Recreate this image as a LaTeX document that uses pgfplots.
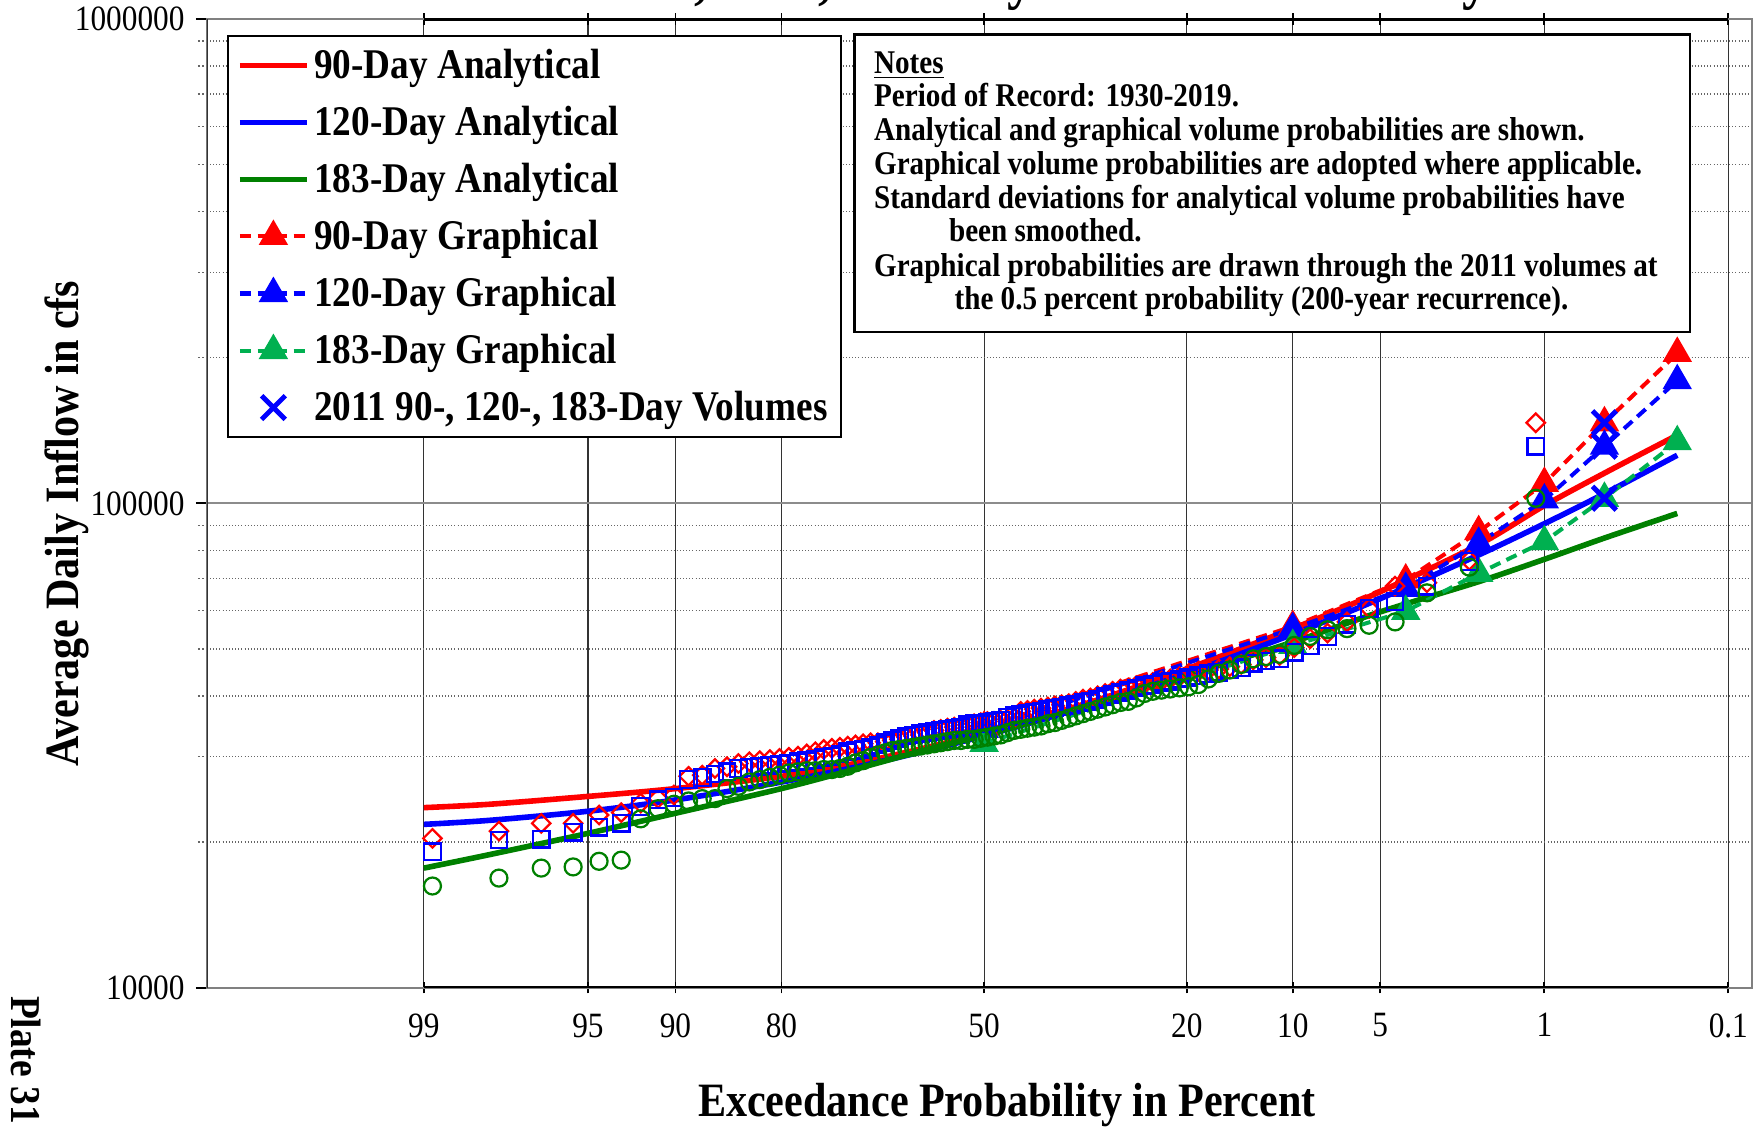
\documentclass[border=0pt]{standalone}
\usepackage{fontspec}
\setmainfont{Liberation Serif}[FakeStretch=0.88]
\usepackage{pgfplots}
\usepackage{pgfplotstable}
\pgfplotsset{compat=1.18}

\definecolor{anared}{RGB}{255,0,0}
\definecolor{anablue}{RGB}{0,0,255}
\definecolor{anagreen}{RGB}{0,128,0}
\definecolor{grgreen}{RGB}{0,176,80}

\newcommand{\tickfont}{\fontsize{15.9pt}{18pt}\selectfont}
\newcommand{\legfont}{\fontsize{18.9pt}{22pt}\selectfont\bfseries}
\newcommand{\notefont}{\fontsize{14.8pt}{17pt}\selectfont\bfseries}
\newcommand{\labfont}{\fontsize{21.4pt}{25pt}\selectfont\bfseries}
\newcommand{\titlefont}{\fontsize{27pt}{30pt}\selectfont\bfseries}

% x = standard normal deviate of the non-exceedance probability (1 - p)
% Analytical volume-frequency curves, average daily inflow in cfs
\pgfplotstableread{
p    z       red     blue    green
99   -2.3263 23540   21740   17660
98   -2.0537 23920   22160   18830
95   -1.6449 24830   23140   20830
90   -1.2816 25770   24420   22920
80   -0.8416 27320   26580   25770
70   -0.5244 29120   28610   28360
60   -0.2533 31200   30740   30880
50    0.0000 33530   33120   33260
40    0.2533 36410   35930   36020
30    0.5244 40070   39500   39430
20    0.8416 45520   44560   44090
10    1.2816 55120   53680   51720
5     1.6449 65700   63570   59700
2     2.0537 82150   78260   68920
1     2.3263 98940   90780   76660
0.5   2.5758 115450  104730  84800
0.2   2.8782 138320  125700  95330
}\analytical

% Graphical curves, drawn through the 2011 volumes at 0.5 percent
\pgfplotstableread{
p    z       red     blue    green
50   0.0000  34520   34160   31960
10   1.2816  55710   55120   50900
4    1.7507  69470   66750   59860
2    2.0537  87410   82720   71720
1    2.3263  109990  101610  83370
0.5  2.5758  146700  131200  102440
0.2  2.8782  204010  179180  134050
}\graphical

% 2011 volumes plotted at the 0.5 percent probability
\pgfplotstableread{
z      vol
2.5758 146700
2.5758 131200
2.5758 102440
}\volumes

% Ranked annual volumes 1930-2019, Weibull plotting position m/91
\pgfplotstableread{
m  z       red     blue    green
1  2.2906  146700  131200  102440
2  2.0146  76260   75850   73860
3  1.8388  68560   67480   65360
4  1.7065  67480   62640   56920
5  1.5987  60670   60670   56020
6  1.5068  56920   56310   55130
7  1.4261  53970   53120   54840
8  1.3537  52550   50900   53120
9  1.2879  50360   49300   50900
10 1.2271  48520   47760   48780
11 1.1706  48010   47250   48270
12 1.1176  47500   46750   47760
13 1.0676  46500   45770   46500
14 1.0200  46010   45280   45280
15 0.9748  45520   44800   44570
16 0.9314  45280   44570   43400
17 0.8897  45040   44090   42260
18 0.8495  44570   43630   41810
19 0.8106  43860   43400   41590
20 0.7729  43400   42940   41370
21 0.7363  42940   42710   41150
22 0.7007  42710   42260   40930
23 0.6659  42480   42030   40500
24 0.6319  42030   41590   39650
25 0.5986  41590   41150   39020
26 0.5660  41370   40710   38810
27 0.5339  40930   40280   38400
28 0.5024  40500   39860   37990
29 0.4714  40070   39430   37590
30 0.4408  39650   39020   37190
31 0.4107  39430   38810   36800
32 0.3809  39020   38400   36410
33 0.3514  38600   38200   36020
34 0.3222  38400   37990   35640
35 0.2934  38200   37790   35270
36 0.2648  37990   37590   35080
37 0.2363  37790   37190   34710
38 0.2081  37590   37000   34520
39 0.1800  37390   36800   34340
40 0.1521  37190   36600   34160
41 0.1243  36020   36410   33980
42 0.0966  35830   36220   33620
43 0.0689  35640   35640   33260
44 0.0413  35460   35460   33090
45 0.0138  35460   35270   32910
46 -0.0138 35270   35080   32740
47 -0.0413 35080   35080   32560
48 -0.0689 34890   34890   32560
49 -0.0966 34710   34520   32390
50 -0.1243 34520   34340   32390
51 -0.1521 34340   34160   32220
52 -0.1800 34160   33980   32050
53 -0.2081 33980   33800   31880
54 -0.2363 33620   33620   31710
55 -0.2648 33260   33440   31540
56 -0.2934 33090   33260   31370
57 -0.3222 32910   33090   31210
58 -0.3514 32560   32740   31040
59 -0.3809 32390   32390   30880
60 -0.4107 32220   32050   30550
61 -0.4408 32050   31710   30230
62 -0.4714 32050   31370   29900
63 -0.5024 31880   31040   29430
64 -0.5339 31710   30880   29120
65 -0.5660 31540   30710   28660
66 -0.5986 31370   30390   28360
67 -0.6319 31210   30060   28210
68 -0.6659 31040   29900   28210
69 -0.7007 30710   29590   28060
70 -0.7363 30390   29430   28060
71 -0.7729 30060   29280   27910
72 -0.8106 29900   29120   27760
73 -0.8495 29750   28970   27470
74 -0.8897 29590   28810   27180
75 -0.9314 29430   28660   26890
76 -0.9748 29280   28510   26600
77 -1.0200 29040   28360   26050
78 -1.0676 28590   27910   25770
79 -1.1176 28360   27610   24570
80 -1.1706 27470   27180   24570
81 -1.2271 27320   26890   24300
82 -1.2879 25000   24700   23920
83 -1.3537 24600   24430   23420
84 -1.4261 24050   23670   22320
85 -1.5068 22990   21850   18340
86 -1.5987 22730   21440   18240
87 -1.7065 21850   20940   17760
88 -1.8388 21850   20250   17660
89 -2.0146 21050   20180   16840
90 -2.2906 20340   19090   16220
}\annual

\pgfplotsset{
  ana/.style={line width=2.5pt},
  grp/.style={line width=1.8pt, dash pattern=on 5pt off 3pt, mark=triangle*, mark size=5.8pt, mark options={solid}},
}

\begin{document}
\begin{tikzpicture}
\useasboundingbox (0,0) rectangle (784pt,503.5pt);
\clip (0,0) rectangle (784pt,503.5pt);
\begin{axis}[
  at={(92.5pt,62pt)}, anchor=south west,
  scale only axis, width=690.75pt, height=433pt,
  xmin=-3.227, xmax=3.190,
  ymode=log, ymin=10000, ymax=1000000,
  xtick={-2.3263,-1.6449,-1.2816,-0.8416,0,0.8416,1.2816,1.6449,2.3263,3.0902},
  xticklabels={99,95,90,80,50,20,10,5,1,0.1},
  ytick={10000,100000,1000000},
  yticklabels={10000,100000,1000000},
  minor ytick={20000,30000,40000,50000,60000,70000,80000,90000,200000,300000,400000,500000,600000,700000,800000,900000},
  /pgf/number format/assume math mode=true,
  xtick align=center, ytick align=outside,
  xtick pos=both, ytick pos=left,
  major tick length=5pt, minor tick length=4pt,
  tick style={black, line width=0.8pt},
  minor tick style={black!60, densely dotted, line width=0.6pt},
  xticklabel style={font=\tickfont, yshift=-5.5pt},
  yticklabel style={font=\tickfont, xshift=-1.5pt},
  xmajorgrids=true, ymajorgrids=true, yminorgrids=true,
  major x grid style={black!80, line width=0.5pt},
  major y grid style={black!45, line width=1pt},
  minor y grid style={black!60, densely dotted, line width=0.6pt},
  axis line style={black!50, line width=0.9pt},
  title={90-, 120-, 183-Day Volume Probability},
  title style={at={(axis description cs:0.5494,1.0087)}, anchor=base, font=\titlefont},
  xlabel={Exceedance Probability in Percent},
  ylabel={Average Daily Inflow in cfs},
  every axis x label/.style={at={(axis description cs:0.5176,-0.1328)}, anchor=base, font=\labfont},
  every axis y label/.style={at={(axis description cs:-0.0905,0.479)}, rotate=90, anchor=center, font=\labfont},
  legend cell align=left,
  legend style={
    at={(axis description cs:0.01303,0.98383)}, anchor=north west,
    draw=black, line width=0.9pt, fill=white,
    font=\legfont,
    inner xsep=4pt, inner ysep=0.5pt,
    column sep=0pt,
  },
  legend image code/.code={
    \path[draw=none, fill=none] (0pt,-12.75pt) -- (0pt,12.75pt);
    \draw[mark repeat=2, mark phase=2, #1] plot coordinates {(0pt,0pt) (15pt,0pt) (30pt,0pt)};
  },
]
% analytical curves
\addplot[ana, anared, smooth] table[x=z, y=red] {\analytical};
\addlegendentry{90-Day Analytical}
\addplot[ana, anablue, smooth] table[x=z, y=blue] {\analytical};
\addlegendentry{120-Day Analytical}
\addplot[ana, anagreen, smooth] table[x=z, y=green] {\analytical};
\addlegendentry{183-Day Analytical}
% graphical curves
\addplot[grp, anared] table[x=z, y=red] {\graphical};
\addlegendentry{90-Day Graphical}
\addplot[grp, anablue] table[x=z, y=blue] {\graphical};
\addlegendentry{120-Day Graphical}
\addplot[grp, grgreen] table[x=z, y=green] {\graphical};
\addlegendentry{183-Day Graphical}
% ranked annual volumes
\addplot[only marks, forget plot, mark=square, mark size=2.9pt,
  mark options={rotate=45, draw=anared, line width=1pt}] table[x=z, y=red] {\annual};
\addplot[only marks, forget plot, mark=square, mark size=3.7pt,
  mark options={draw=anablue, line width=1pt}] table[x=z, y=blue] {\annual};
\addplot[only marks, forget plot, mark=o, mark size=3.8pt,
  mark options={draw=anagreen, line width=1pt}] table[x=z, y=green] {\annual};
% 2011 volumes
\addplot[only marks, mark=x, mark size=7.5pt,
  mark options={draw=anablue, line width=2.2pt}] table[x=z, y=vol] {\volumes};
\addlegendentry{2011 90-, 120-, 183-Day Volumes}
% heavier frame between the 99 and 0.1 percent ticks
\draw[black, line width=1.6pt] (axis cs:-2.3263,10000) -- (axis cs:3.0902,10000);
\draw[black, line width=1.6pt] (axis cs:-2.3263,1000000) -- (axis cs:3.0902,1000000);
\draw[black!80, line width=1pt] (axis cs:-3.227,10000) -- (axis cs:-3.227,1000000);
\end{axis}

% notes box
\draw[fill=white, line width=1.1pt] (382pt,488pt) rectangle (755.5pt,355pt);
\begin{scope}[every node/.style={anchor=base west, inner sep=0pt, font=\notefont}]
\node at (390.5pt,470.5pt) {\underline{Notes}};
\node at (390.5pt,456pt) {Period of Record: 1930-2019.};
\node at (390.5pt,440.5pt) {Analytical and graphical volume probabilities are shown.};
\node at (390.5pt,425.5pt) {Graphical volume probabilities are adopted where applicable.};
\node at (390.5pt,410.5pt) {Standard deviations for analytical volume probabilities have};
\node at (424pt,395.5pt) {been smoothed.};
\node at (390.5pt,380pt) {Graphical probabilities are drawn through the 2011 volumes at};
\node at (426.5pt,365pt) {the 0.5 percent probability (200-year recurrence).};
\end{scope}

\node[rotate=-90, anchor=base west, inner sep=0pt, font=\fontsize{19pt}{22pt}\selectfont\bfseries] at (5pt,58.5pt) {Plate 31};
\end{tikzpicture}
\end{document}
